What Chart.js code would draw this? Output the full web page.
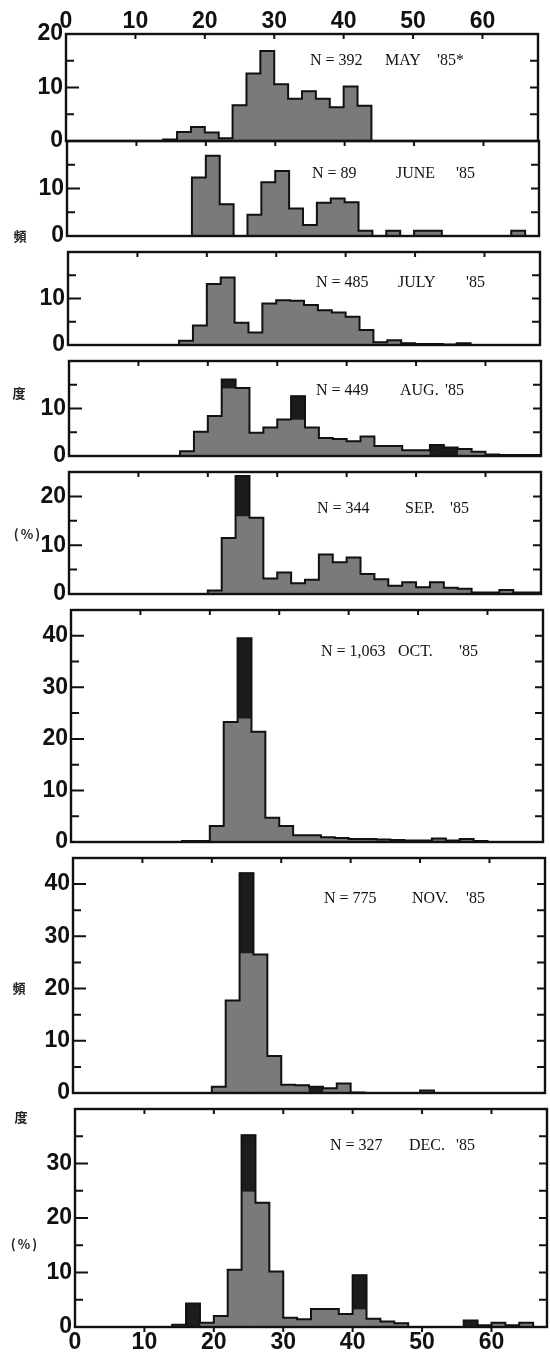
<!DOCTYPE html>
<html lang="ja">
<head>
    <meta charset="UTF-8">
    <title>Monthly length frequency '85</title>
    <script src="https://cdn.jsdelivr.net/npm/chart.js@4.4.1/dist/chart.umd.min.js"></script>
    <style>
        body { margin: 0; background: #fff; width: 550px; height: 1357px; position: relative; overflow: hidden; }
        .panel { position: absolute; }
        .note { position: absolute; font-family: "Liberation Serif", serif; font-size: 16px; color: #111; white-space: pre; line-height: 1; transform: translateY(-50%); }
        .jp { position: absolute; font-family: "Noto Sans CJK JP", sans-serif; font-size: 13px; font-weight: 700; color: #222; line-height: 1; transform: translate(-50%, -50%); }
    </style>
</head>
<body>
<script>
    // 2-unit classes, left edge of each class
    const binStarts = [0, 2, 4, 6, 8, 10, 12, 14, 16, 18, 20, 22, 24, 26, 28, 30, 32,
                       34, 36, 38, 40, 42, 44, 46, 48, 50, 52, 54, 56, 58, 60, 62, 64, 66];

    // frequency (%) per class
    const may  = [0, 0, 0, 0, 0, 0, 0, 0.3, 1.7, 2.6, 1.6, 0.5, 6.7, 12.6, 16.8, 10.6, 7.9,
                  9.3, 7.9, 6.3, 10.2, 6.6, 0, 0, 0, 0, 0, 0, 0, 0, 0, 0, 0, 0];
    const june = [0, 0, 0, 0, 0, 0, 0, 0, 0, 12.3, 16.9, 6.7, 0, 4.5, 11.3, 13.7, 5.8,
                  2.3, 7.0, 7.9, 7.1, 1.1, 0, 1.1, 0, 1.1, 1.1, 0, 0, 0, 0, 0, 1.1, 0];
    const july = [0, 0, 0, 0, 0, 0, 0, 0, 0.9, 4.2, 13.1, 14.5, 4.8, 2.7, 8.9, 9.6, 9.5,
                  8.6, 7.5, 7.0, 6.1, 3.2, 0.6, 1.0, 0.4, 0.2, 0.2, 0.1, 0.4, 0, 0, 0, 0, 0];
    const aug  = [0, 0, 0, 0, 0, 0, 0, 0, 1.0, 5.1, 8.4, 16.1, 14.3, 4.9, 6.0, 7.7, 12.6,
                  6.0, 3.8, 3.6, 3.1, 4.1, 2.1, 2.1, 1.2, 1.2, 2.3, 1.8, 1.5, 0.9, 0.3, 0.2, 0.2, 0.2];
    const sep  = [0, 0, 0, 0, 0, 0, 0, 0, 0, 0, 0.7, 11.5, 24.2, 15.6, 3.2, 4.4, 2.2,
                  2.9, 8.1, 6.5, 7.5, 4.1, 3.0, 1.7, 2.4, 1.4, 2.4, 1.3, 1.1, 0.3, 0.3, 0.8, 0.3, 0.3];
    const oct  = [0, 0, 0, 0, 0, 0, 0, 0, 0.2, 0.2, 3.1, 23.3, 39.5, 21.4, 4.7, 3.1, 1.3,
                  1.3, 0.9, 0.8, 0.6, 0.6, 0.5, 0.4, 0.3, 0.3, 0.7, 0.3, 0.6, 0.2, 0, 0, 0, 0];
    const nov  = [0, 0, 0, 0, 0, 0, 0, 0, 0, 0, 1.2, 17.7, 42.1, 26.5, 7.1, 1.6, 1.5,
                  1.2, 0.9, 1.8, 0.1, 0, 0, 0, 0, 0.5, 0, 0, 0, 0, 0, 0, 0, 0];
    const dec  = [0, 0, 0, 0, 0, 0, 0, 0.4, 4.3, 0.8, 2.0, 10.5, 35.2, 22.8, 10.2, 1.7, 1.4,
                  3.3, 3.3, 2.4, 9.5, 1.5, 1.0, 0.7, 0, 0, 0, 0, 1.2, 0.3, 0.8, 0.3, 0.8, 0];

    // darker printed parts: [class start, from %, to %]
    const darkMay  = [];
    const darkJune = [];
    const darkJuly = [];
    const darkAug  = [[22, 14.3, 16.1], [32, 7.7, 12.6], [52, 0, 2.3], [54, 0, 1.8]];
    const darkSep  = [[24, 16.0, 24.2]];
    const darkOct  = [[24, 24.0, 39.5]];
    const darkNov  = [[24, 26.8, 42.1], [34, 0, 1.2]];
    const darkDec  = [[16, 0, 4.3], [24, 24.9, 35.2], [40, 3.3, 9.5], [56, 0, 1.2]];

    const sampleSizes = ['N = 392', 'N = 89', 'N = 485', 'N = 449', 'N = 344', 'N = 1,063', 'N = 775', 'N = 327'];
    const monthNames  = ['MAY', 'JUNE', 'JULY', 'AUG.', 'SEP.', 'OCT.', 'NOV.', 'DEC.'];
    const yearMarks   = ["'85*", "'85", "'85", "'85", "'85", "'85", "'85", "'85"];

    const xTickLabels = [0, 10, 20, 30, 40, 50, 60];
    const yMax = [20, 20, 20, 20, 25, 45, 45, 40];
    const yTickLabels = [[0, 10, 20], [0, 10], [0, 10], [0, 10], [0, 10, 20],
                         [0, 10, 20, 30, 40], [0, 10, 20, 30, 40], [0, 10, 20, 30]];

    const months = [may, june, july, aug, sep, oct, nov, dec];
    const darks = [darkMay, darkJune, darkJuly, darkAug, darkSep, darkOct, darkNov, darkDec];

    // layout: plot left, plot top, plot bottom (the scan is slightly skewed)
    const frames = [[66, 34, 141], [67, 141, 252], [68, 252, 361], [69, 361, 472],
                    [69, 472, 610], [71, 610, 858], [73, 858, 1109], [75, 1109, 1327]];
    // note positions: centre y, x of the three parts
    const notePos = [[60, 310, 385, 437], [173, 312, 396, 456], [282, 316, 398, 466], [390, 316, 400, 445],
                     [508, 317, 405, 450], [651, 321, 398, 459], [898, 324, 412, 466], [1145, 330, 409, 456]];
    const sideLabels = [['頻', 20, 235], ['度', 19, 392], ['(%)', 28, 533],
                        ['頻', 19, 987], ['度', 21, 1116], ['(%)', 25, 1243]];

    const X_MAX = 68;
    const PLOT_W = 472;
    const GUTTER = 62;
    const PAD_R = 3;
    const GRAY = '#7a7a7a';
    const DARK = '#1c1c1c';
    const INK = '#111';
    const tickFont = { family: 'Liberation Sans', size: 23, weight: 'bold', lineHeight: 1 };

    // frame and inward tick marks
    const framePlugin = {
        id: 'frame',
        afterDatasetsDraw(chart, args, opts) {
            const ctx = chart.ctx;
            const a = chart.chartArea;
            const y = chart.scales.y;
            const x = chart.scales.x;
            ctx.save();
            ctx.strokeStyle = INK;
            ctx.lineWidth = 2.4;
            ctx.strokeRect(a.left, a.top, a.right - a.left, a.bottom - a.top);
            ctx.lineWidth = 2;
            ctx.beginPath();
            for (let v = 5; v < y.max; v += 5) {
                const py = y.getPixelForValue(v);
                const len = v % 10 === 0 ? 13 : 8;
                ctx.moveTo(a.left, py);
                ctx.lineTo(a.left + len, py);
                ctx.moveTo(a.right, py);
                ctx.lineTo(a.right - 8, py);
            }
            xTickLabels.forEach(v => {
                if (v === 0) return;
                const px = x.getPixelForValue(v);
                ctx.moveTo(px, a.top);
                ctx.lineTo(px, a.top + 5);
                if (opts.last) {
                    ctx.moveTo(px, a.bottom);
                    ctx.lineTo(px, a.bottom + 5);
                }
            });
            ctx.stroke();
            ctx.restore();
        }
    };

    function makePanel(i) {
        const [left, top, bottom] = frames[i];
        const first = i === 0;
        const last = i === months.length - 1;
        const padT = first ? 34 : 16;
        const padB = last ? 30 : 16;

        const box = document.createElement('div');
        box.className = 'panel';
        box.style.left = (left - GUTTER) + 'px';
        box.style.top = (top - padT) + 'px';
        box.style.width = (GUTTER + PLOT_W + PAD_R) + 'px';
        box.style.height = (padT + bottom - top + padB) + 'px';
        const canvas = document.createElement('canvas');
        box.appendChild(canvas);
        document.body.appendChild(box);

        const vals = months[i];
        const outline = [{ x: binStarts[0], y: 0 }];
        binStarts.forEach((b, k) => outline.push({ x: b, y: vals[k] }));
        outline.push({ x: X_MAX, y: 0 });

        new Chart(canvas, {
            type: 'bar',
            data: {
                datasets: [
                    {
                        type: 'line', data: outline, stepped: true, fill: false,
                        borderColor: INK, borderWidth: 2, pointRadius: 0, order: 0
                    },
                    {
                        data: darks[i].map(d => ({ x: d[0] + 1, y: [d[1], d[2]] })),
                        backgroundColor: DARK, grouped: false, order: 1
                    },
                    {
                        data: binStarts.map((b, k) => ({ x: b + 1, y: vals[k] })),
                        backgroundColor: GRAY, grouped: false, order: 2
                    }
                ]
            },
            options: {
                animation: false,
                responsive: true,
                maintainAspectRatio: false,
                events: [],
                layout: { padding: { top: first ? 0 : padT, bottom: last ? 0 : padB, left: 0, right: PAD_R } },
                datasets: { bar: { barPercentage: 1, categoryPercentage: 1 } },
                plugins: { legend: { display: false }, tooltip: { enabled: false }, frame: { last: last } },
                scales: {
                    x: {
                        type: 'linear', min: 0, max: X_MAX, offset: false,
                        position: first ? 'top' : 'bottom',
                        display: first || last,
                        grid: { display: false, drawTicks: false },
                        border: { display: false },
                        ticks: {
                            stepSize: 10, includeBounds: false, autoSkip: false, maxRotation: 0,
                            padding: first ? 1 : 4, color: INK, font: tickFont,
                            callback: v => xTickLabels.includes(v) ? String(v) : ''
                        },
                        afterFit: s => { s.height = first ? padT : padB; }
                    },
                    y: {
                        min: 0, max: yMax[i],
                        grid: { display: false, drawTicks: false },
                        border: { display: false },
                        ticks: {
                            stepSize: 5, autoSkip: false, padding: 3, color: INK, font: tickFont,
                            callback: v => yTickLabels[i].includes(v) ? String(v) : ''
                        },
                        afterFit: s => { s.width = GUTTER; }
                    }
                }
            },
            plugins: [framePlugin]
        });
    }

    months.forEach((m, i) => makePanel(i));

    // N / month notes
    notePos.forEach((p, i) => {
        const parts = [sampleSizes[i], monthNames[i], yearMarks[i]];
        parts.forEach((t, j) => {
            const d = document.createElement('div');
            d.className = 'note';
            d.textContent = t;
            d.style.left = p[j + 1] + 'px';
            d.style.top = p[0] + 'px';
            document.body.appendChild(d);
        });
    });

    // 頻度 (%) side labels
    sideLabels.forEach(([t, x, y]) => {
        const d = document.createElement('div');
        d.className = 'jp';
        d.textContent = t;
        d.style.left = x + 'px';
        d.style.top = y + 'px';
        if (t === '(%)') d.style.letterSpacing = '2px';
        document.body.appendChild(d);
    });
</script>
</body>
</html>
